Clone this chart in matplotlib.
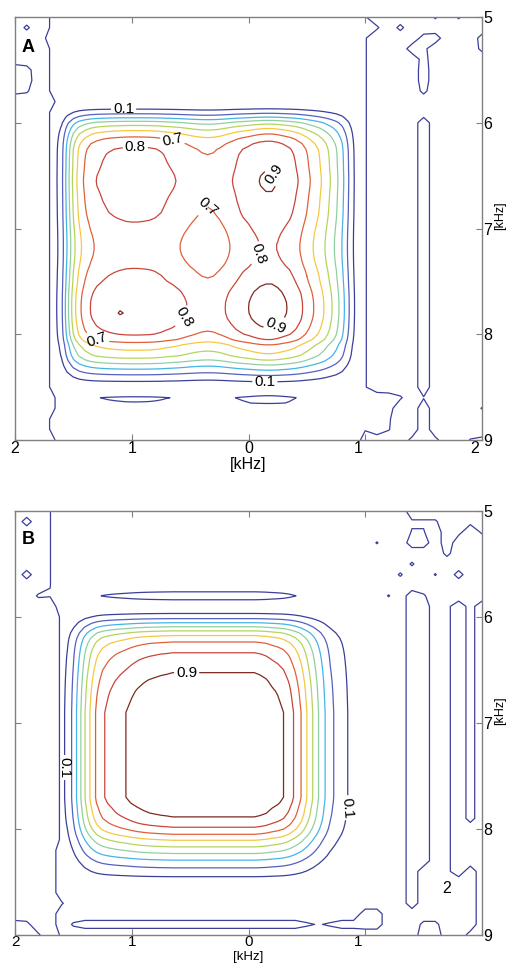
#!/usr/bin/env python3

import matplotlib
matplotlib.use("Agg")
import matplotlib.pyplot as plt
import matplotlib.transforms as mtransforms
import numpy as np

plt.rcParams["font.family"] = ["Liberation Sans", "DejaVu Sans"]

# ============================================================
# DATA
# ============================================================

# signal grid: 0.05 kHz, noise-floor grid: 0.1 kHz
xs_fine = np.round(np.linspace(-2.0, 2.0, 81), 2)
ys_fine = np.round(np.linspace(5.0, 9.0, 81), 2)
xs_coarse = np.round(np.linspace(-2.0, 2.0, 41), 1)
ys_coarse = np.round(np.linspace(5.0, 9.0, 41), 1)

levels = [0.1, 0.2, 0.3, 0.4, 0.5, 0.6, 0.7, 0.8, 0.9]
level_colors = ["#3b3f9a", "#5560c0", "#45b4e8", "#8fd0a0", "#b5d55a",
                "#f5c842", "#e0603a", "#c8453a", "#7d2a20"]
navy = "#3b3f9a"

x_ticks = [-2, -1, 0, 1, 2]
x_tick_labels_a = ["2", "1", "0", "1", "2"]
x_tick_labels_b = ["2", "1", "0", "1", ""]
y_ticks = [5, 6, 7, 8, 9]

# --- panel A: main peak, x and y profiles (0.05 kHz steps) ---
prof_x_a = ([0] * 7 +
            [0.09, 0.19, 0.39, 0.58, 0.71, 0.79, 0.845, 0.88, 0.90,
             0.915, 0.925, 0.932, 0.938, 0.94, 0.94, 0.938, 0.935, 0.928,
             0.917, 0.90, 0.887, 0.87, 0.85, 0.83, 0.812, 0.80, 0.795,
             0.80, 0.815, 0.84, 0.87, 0.90, 0.925, 0.945, 0.97, 0.99,
             1.0, 1.0, 0.985, 0.96, 0.935, 0.90, 0.855, 0.80, 0.745,
             0.69, 0.625, 0.55, 0.47, 0.37, 0.24, 0.12, 0.03] +
            [0] * 21)
prof_y_a = ([0] * 17 +
            [0.06, 0.17, 0.31, 0.47, 0.59, 0.69, 0.77, 0.83, 0.865, 0.88,
             0.887, 0.893, 0.90, 0.908, 0.912, 0.908, 0.90, 0.893, 0.887,
             0.88, 0.873, 0.862, 0.848, 0.835, 0.823, 0.815, 0.81, 0.81,
             0.815, 0.825, 0.84, 0.86, 0.875, 0.89, 0.91, 0.93, 0.942,
             0.95, 0.952, 0.95, 0.94, 0.92, 0.895, 0.86, 0.80, 0.70,
             0.64, 0.58, 0.49, 0.38, 0.28, 0.18, 0.10, 0.04, 0.08, 0.112,
             0.105, 0.05, 0.0] +
            [0] * 5)
bumps_a = [(-1.1, 7.8, 0.025)]

# --- panel A: noise floor (one navy contour, 0.1 kHz steps) ---
floor_x_a = [0, 0, 0, 0.52] + [1.0] * 26 + [0.55] + [0] * 10
floor_blocks_a = [
    (1.5, 1.5, 6.0, 8.5, 1.0),
    (1.5, 1.5, 8.6, 8.6, 0.45),
    (1.5, 1.5, 8.7, 9.0, 1.0),
    (1.1, 1.1, 8.6, 8.9, 1.0),
]
floor_spots_a = [
    (-2.0, 5.5, 1.0), (-2.0, 5.6, 1.0), (-2.0, 5.7, 0.7),
    (-1.9, 5.5, 0.8), (-1.9, 5.6, 0.9), (-1.9, 5.7, 0.6),
    (-1.9, 5.1, 0.65),
    (-1.7, 5.2, 0.3), (-1.7, 5.8, -0.4),
    (-1.7, 8.6, -0.4), (-1.7, 8.7, -0.4), (-1.7, 9.0, -0.4),
    (1.1, 5.1, 0.6), (1.3, 5.1, 0.7),
    (1.4, 5.3, 0.9), (1.5, 5.2, 0.8), (1.6, 5.2, 0.9), (1.5, 5.3, 0.7),
    (1.5, 5.4, 0.8), (1.5, 5.5, 0.9), (1.5, 5.6, 0.9), (1.5, 5.7, 0.7),
    (1.6, 5.0, 0.6), (1.8, 5.0, 0.6), (2.0, 5.2, 0.8), (2.0, 5.3, 0.7),
    (1.2, 8.6, 0.9), (1.2, 8.7, 0.8), (1.2, 8.8, 0.6), (1.2, 8.9, 0.55),
    (1.3, 8.6, 0.6), (1.0, 9.0, -0.4),
    (1.4, 9.0, 0.7), (1.6, 9.0, 0.7),
    (1.9, 9.0, 0.55), (2.0, 9.0, 0.7), (2.0, 8.7, 0.55),
]
label_pos_a = [(-1.07, 5.86), (-0.97, 6.24), (-0.65, 6.16), (0.18, 6.52),
               (-0.35, 6.80), (0.12, 7.25), (-0.57, 7.83), (0.23, 7.92),
               (-1.30, 8.06), (0.14, 8.46)]

# --- panel B: main peak (0.05 kHz steps) ---
prof_x_b = ([0] * 7 +
            [0.02, 0.07, 0.13, 0.23, 0.36, 0.50, 0.62, 0.72, 0.785, 0.825,
             0.855, 0.88, 0.90, 0.925, 0.945, 0.96, 0.972, 0.98, 0.988,
             0.993] +
            [1.0] * 15 +
            [0.99, 0.975, 0.95, 0.93, 0.90, 0.85, 0.78, 0.70, 0.60, 0.50,
             0.40, 0.31, 0.23, 0.18, 0.14, 0.10, 0.05, 0.02] +
            [0] * 21)
prof_y_b = ([0] * 15 +
            [0.09, 0.13, 0.09, 0.0, 0.07, 0.16, 0.29, 0.42, 0.55, 0.65,
             0.72, 0.77, 0.81, 0.84, 0.865, 0.89, 0.91, 0.93, 0.945, 0.96,
             0.97, 0.98, 0.99] +
            [1.0] * 17 +
            [0.98, 0.95, 0.925, 0.89, 0.84, 0.78, 0.70, 0.61, 0.53, 0.45,
             0.37, 0.29, 0.22, 0.16, 0.10, 0.04] +
            [0] * 10)
bumps_b = []

# --- panel B: noise floor ---
floor_x_b = [1.0, 1.0, 1.0, 1.0, 0.38] + [0] * 36
floor_blocks_b = [
    (-1.7, -1.7, 5.0, 5.7, -0.48),
    (-1.6, -1.6, 5.0, 5.9, -0.38),
    (-1.8, -1.8, 5.8, 5.8, -0.6),
    (-1.7, -1.7, 5.8, 5.8, -0.55),
    (-1.6, -1.6, 8.2, 8.6, -0.38),
    (-1.6, -1.6, 8.7, 8.7, 0.2),
    (-1.6, -1.6, 8.8, 8.9, -0.38),
    (-1.5, -1.5, 8.9, 8.9, 0.6),
    (-1.4, 0.4, 8.9, 8.9, 0.8),
    (0.5, 0.5, 8.9, 8.9, 0.6),
    (0.6, 0.6, 8.9, 8.9, 0.45),
    (0.7, 0.7, 8.9, 8.9, 0.6),
    (0.8, 0.9, 8.9, 8.9, 0.8),
    (1.0, 1.1, 8.8, 8.9, 0.9),
    (1.4, 1.4, 5.8, 8.7, 1.0),
    (1.5, 1.5, 5.8, 5.8, 0.6),
    (1.5, 1.5, 5.9, 8.3, 1.0),
    (1.7, 1.7, 5.9, 8.4, 0.3),
    (1.8, 1.8, 5.9, 8.4, 1.0),
    (1.9, 1.9, 5.9, 7.9, 0.2),
    (1.9, 1.9, 8.0, 8.3, 1.0),
    (2.0, 2.0, 5.9, 9.0, 1.0),
    (1.5, 1.6, 9.0, 9.0, 1.0),
    (1.5, 1.6, 8.9, 8.9, 0.7),
    (1.9, 1.9, 9.0, 9.0, 0.8),
    (1.4, 2.0, 5.0, 5.0, 1.0),
    (1.4, 1.6, 5.1, 5.1, 0.4),
    (1.7, 1.8, 5.1, 5.1, 1.0),
    (1.9, 2.0, 5.1, 5.1, 0.7),
    (1.7, 1.7, 5.2, 5.3, 1.0),
    (1.4, 1.5, 5.3, 5.3, 0.9),
    (1.4, 1.5, 5.2, 5.2, 0.55),
]
floor_spots_b = [
    (1.8, 5.2, 0.7), (1.7, 5.4, 0.7), (2.0, 5.2, 0.6),
    (1.1, 5.3, 0.55), (1.4, 5.5, 0.6), (1.3, 5.6, 0.6),
    (1.6, 5.6, 0.55), (1.8, 5.6, 0.8), (1.2, 5.8, 0.55),
    (-1.9, 5.1, -0.83), (-1.9, 5.6, -0.83),
    (-2.0, 8.9, -0.8), (-2.0, 9.0, -0.8), (-1.9, 8.9, -0.7),
    (-1.9, 9.0, -0.8), (-1.8, 9.0, -0.6),
]
label_pos_b = [(-0.53, 6.52), (-1.57, 7.42), (0.85, 7.80)]

# ============================================================
# GRIDS
# ============================================================

Xf, Yf = np.meshgrid(xs_fine, ys_fine)
Xc, Yc = np.meshgrid(xs_coarse, ys_coarse)


def add_blocks(grid, gx, gy, blocks):
    for x0, x1, y0, y1, v in blocks:
        m = ((gx > x0 - 0.01) & (gx < x1 + 0.01)
             & (gy > y0 - 0.01) & (gy < y1 + 0.01))
        grid[m] += v
    return grid


def spots_to_blocks(spots):
    return [(x, x, y, y, v) for x, y, v in spots]


def signal_field(px, py, bumps):
    z = np.outer(py, px)
    return add_blocks(z, Xf, Yf, spots_to_blocks(bumps))


def floor_field(fx, blocks, spots):
    n = np.tile(np.array(fx, dtype=float), (len(ys_coarse), 1))
    n = add_blocks(n, Xc, Yc, blocks)
    return add_blocks(n, Xc, Yc, spots_to_blocks(spots))


sig_a = signal_field(prof_x_a, prof_y_a, bumps_a)
sig_b = signal_field(prof_x_b, prof_y_b, bumps_b)
flo_a = floor_field(floor_x_a, floor_blocks_a, floor_spots_a)
flo_b = floor_field(floor_x_b, floor_blocks_b, floor_spots_b)

# ============================================================
# PLOT
# ============================================================

fig = plt.figure(figsize=(5.08, 9.65), dpi=100)
ax_a = fig.add_axes([15 / 508, 1 - 440 / 965, 467 / 508, 423 / 965])
ax_b = fig.add_axes([15 / 508, 1 - 935 / 965, 467 / 508, 424 / 965])

shift_left = mtransforms.ScaledTranslation(-7 / 100, 0, fig.dpi_scale_trans)


def draw_panel(ax, sig, flo, label_pos, tick_labels, letter, letter_y,
               xlabel_y, xlabel_size, xtick_size, xtick_pad):
    ax.contour(Xc, Yc, flo, levels=[0.5], colors=[navy], linewidths=0.9)
    cs = ax.contour(Xf, Yf, sig, levels=levels, colors=level_colors,
                    linewidths=0.9)
    ax.clabel(cs, manual=label_pos, inline=True, inline_spacing=2,
              fmt="%.1f", fontsize=11, colors="black")

    ax.set_xlim(-2, 2)
    ax.set_ylim(9, 5)
    ax.set_xticks(x_ticks)
    ax.set_xticklabels(tick_labels)
    ax.set_yticks(y_ticks)
    ax.set_yticklabels([str(v) for v in y_ticks])
    ax.tick_params(direction="in", top=True, right=True, left=True,
                   bottom=True, labelleft=False, labelright=True,
                   length=4, width=0.8, color="#808080", labelsize=11.5,
                   pad=1)
    ax.tick_params(axis="x", labelsize=xtick_size, pad=xtick_pad)
    for lab in ax.get_xticklabels()[3:]:
        lab.set_transform(lab.get_transform() + shift_left)
    for sp in ax.spines.values():
        sp.set_color("#808080")
        sp.set_linewidth(1.0)

    ax.set_xlabel("[kHz]", fontsize=xlabel_size)
    ax.xaxis.set_label_coords(0.5, xlabel_y)
    ax.yaxis.set_label_position("right")
    ax.set_ylabel("[kHz]", fontsize=9, rotation=90)
    ax.yaxis.set_label_coords(1.0257, 0.53)

    ax.text(0.028, letter_y, letter, transform=ax.transAxes, fontsize=13,
            fontweight="bold", ha="center", va="center")


draw_panel(ax_a, sig_a, flo_a, label_pos_a, x_tick_labels_a, "A", 0.929,
           -0.040, 11.5, 11.5, 1)
draw_panel(ax_b, sig_b, flo_b, label_pos_b, x_tick_labels_b, "B", 0.932,
           -0.0389, 9.5, 11, 0)

ax_b.text(1.70, 8.56, "2", fontsize=11.5, ha="center", va="center")

fig.savefig("out.png", dpi=100)
